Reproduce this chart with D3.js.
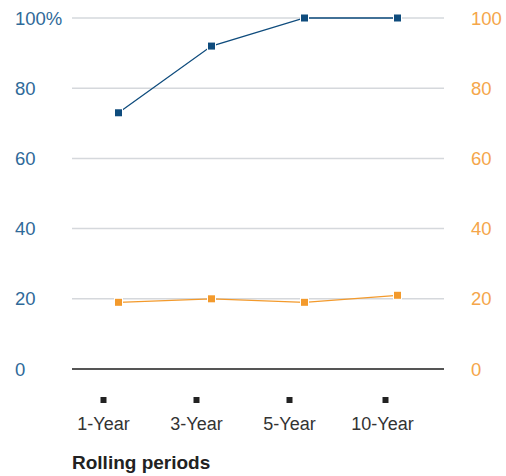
<!DOCTYPE html>
<html><head><meta charset="utf-8">
<script src="https://cdn.jsdelivr.net/npm/d3@7"></script>
<style>body{margin:0;background:#fff}svg{display:block}text{font-family:"Liberation Sans",Arial,Helvetica,sans-serif}</style>
</head><body><svg id="c" width="506" height="476"></svg>
<script>
const categories = ["1-Year","3-Year","5-Year","10-Year"];
const blueValues = [73, 92, 100, 100];
const orangeValues = [19, 20, 19, 21];
const leftTicks = [0,20,40,60,80,100];
const rightTicks = [0,20,40,60,80,100];
const xTitle = "Rolling periods";

const svg = d3.select("#c");
const blue = "#0f4c7d", blueText = "#2f6a99", orange = "#f39a2c", orangeText = "#f5a64a";
const x = d3.scalePoint().domain(categories).range([72,444]).padding(0.5);
const y = d3.scaleLinear().domain([0,100]).range([369,18]);

svg.append("g").selectAll("line").data(leftTicks.filter(d=>d>0)).join("line")
  .attr("x1",72).attr("x2",444).attr("y1",d=>y(d)).attr("y2",d=>y(d))
  .attr("stroke","#d5d8dc").attr("stroke-width",1.5);
svg.append("line").attr("x1",72).attr("x2",444).attr("y1",y(0)).attr("y2",y(0))
  .attr("stroke","#555").attr("stroke-width",2);

svg.append("g").selectAll("text").data(leftTicks).join("text")
  .attr("x",15).attr("y",d=>y(d)).attr("dy","0.36em")
  .attr("fill",blueText).attr("font-size",18.5)
  .text(d=>d===100?"100%":d);
svg.append("g").selectAll("text").data(rightTicks).join("text")
  .attr("x",471).attr("y",d=>y(d)).attr("dy","0.36em")
  .attr("fill",orangeText).attr("font-size",18.5)
  .text(d=>d);

function series(vals,color){
  const g = svg.append("g");
  g.append("path").datum(vals)
    .attr("d",d3.line().x((d,i)=>x(categories[i])).y(d=>y(d)))
    .attr("fill","none").attr("stroke",color).attr("stroke-width",1.3);
  g.selectAll("rect").data(vals).join("rect")
    .attr("x",(d,i)=>x(categories[i])-3.5).attr("y",d=>y(d)-3.5)
    .attr("width",7).attr("height",7)
    .attr("fill",color).attr("stroke","#fff").attr("stroke-width",2).attr("paint-order","stroke");
}
series(blueValues, blue);
series(orangeValues, orange);

const off = [-15,-15,-15,-12];
svg.append("g").selectAll("rect").data(categories).join("rect")
  .attr("x",(d,i)=>x(d)+off[i]-3).attr("y",397).attr("width",6).attr("height",6).attr("fill","#222");
svg.append("g").selectAll("text").data(categories).join("text")
  .attr("x",(d,i)=>x(d)-15).attr("y",424).attr("dy","0.36em").attr("text-anchor","middle")
  .attr("fill","#333").attr("font-size",18).text(d=>d);
svg.append("text").attr("x",72).attr("y",462).attr("dy","0.36em")
  .attr("fill","#222").attr("font-size",19).attr("font-weight","bold").text(xTitle);
</script></body></html>
